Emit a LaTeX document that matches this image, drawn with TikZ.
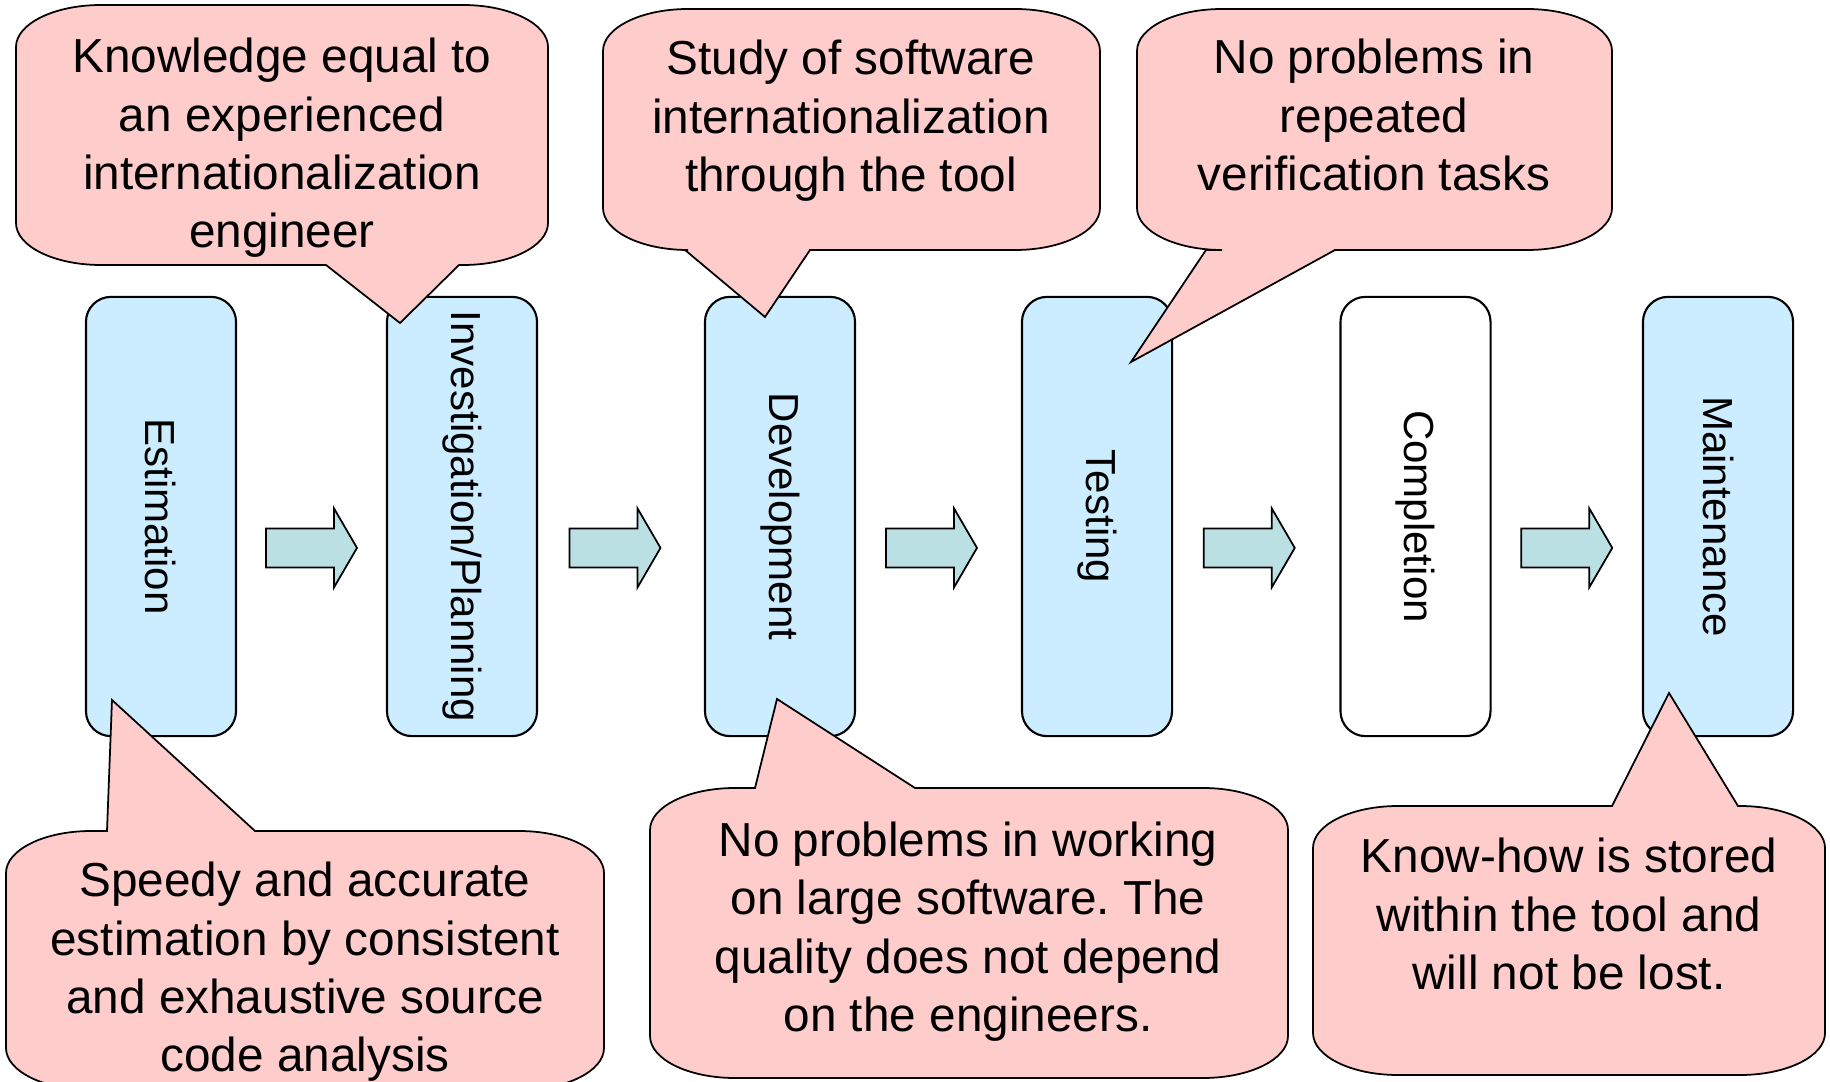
\documentclass[tikz,border=0pt]{standalone}
\usepackage{fontspec}
\setmainfont{Liberation Sans}
\usetikzlibrary{calc}
\frenchspacing

\definecolor{stageblue}{HTML}{CCECFF}
\definecolor{notepink}{HTML}{FFCCCC}
\definecolor{flowteal}{HTML}{BBE0E3}

\newcommand{\notebubble}[6]{%
	\filldraw[note] (#1,#2+42)
		arc[start angle=180,end angle=270,x radius=85,y radius=42] #5
		-- (#3-85,#2) arc[start angle=270,end angle=360,x radius=85,y radius=42]
		-- (#3,#4-42) arc[start angle=0,end angle=90,x radius=85,y radius=42] #6
		-- (#1+85,#4) arc[start angle=90,end angle=180,x radius=85,y radius=42]
		-- cycle;}

\newcommand{\flowarrow}[3]{%
	\filldraw[flow] ($(#1.east)!0.5!(#2.west)$) ++(-45.5+#3,-50.9)
		-- ++(68,0) -- ++(0,-20) -- ++(23,39.5) -- ++(-23,39.5)
		-- ++(0,-20) -- ++(-68,0) -- cycle;}

\begin{document}
\begin{tikzpicture}[x=0.01cm,y=0.01cm,
		stage/.style={draw,fill=stageblue,rounded corners=0.25cm,line width=0.6pt,
			minimum width=1.5cm,minimum height=4.39cm,inner sep=0pt,
			font=\fontsize{11.95}{14}\selectfont},
		flow/.style={fill=flowteal,draw=black,line width=0.5pt},
		note/.style={fill=notepink,draw=black,line width=0.5pt},
		notetext/.style={align=center,inner sep=0pt,
			font=\fontsize{13.57}{16.6}\selectfont}]
	\useasboundingbox (0,0) rectangle (1830,1081);
	\clip (0,0) rectangle (1830,1081);

	\node[stage] (est) at (161,564.5) {\rotatebox{-90}{Estimation}};
	\node[stage] (inv) at (462,564.5) {\rotatebox{-90}{Investigation/Planning}};
	\node[stage] (dev) at (780,564.5) {\rotatebox{-90}{Development}};
	\node[stage] (tst) at (1097,564.5) {\rotatebox{-90}{Testing}};
	\node[stage,fill=white] (cmp) at (1415.5,564.5) {\rotatebox{-90}{Completion}};
	\node[stage] (mnt) at (1718,564.5) {\rotatebox{-90}{Maintenance}};

	\foreach \a/\b/\d in {est/inv/0,inv/dev/-6,dev/tst/-7,tst/cmp/-7,cmp/mnt/0}
		\flowarrow{\a}{\b}{\d};

	\notebubble{16}{816}{548}{1076}{-- (326,816) -- (400,758) -- (459,816)}{}
	\node[notetext] (n-know) at (282,933) {Knowledge equal to\\an experienced\\internationalization\\engineer};

	\notebubble{603}{831}{1100}{1072}{-- (685,831) -- (765,764) -- (810,831)}{}
	\node[notetext] (n-study) at (851,960) {Study of software\\internationalization\\through the tool};

	\notebubble{1137}{831}{1612}{1072}{-- (1206,831) -- (1131,719) -- (1335,831)}{}
	\node[notetext] (n-verify) at (1374,966) {No problems in\\repeated\\verification tasks};

	\notebubble{6}{-9}{604}{250}{}{-- (255,250) -- (112,381) -- (107,250)}
	\node[notetext] (n-speed) at (305,109) {Speedy and accurate\\estimation by consistent\\and exhaustive source\\code analysis};

	\notebubble{650}{3}{1288}{293}{}{-- (915,293) -- (777,382) -- (755,293)}
	\node[notetext] (n-large) at (968,149.5) {No problems in working\\on large software. The\\quality does not depend\\on the engineers.};

	\notebubble{1313}{6}{1825}{275}{}{-- (1738,275) -- (1669,388) -- (1612,275)}
	\node[notetext] (n-knowhow) at (1569,167) {Know-how is stored\\within the tool and\\will not be lost.};
\end{tikzpicture}
\end{document}
